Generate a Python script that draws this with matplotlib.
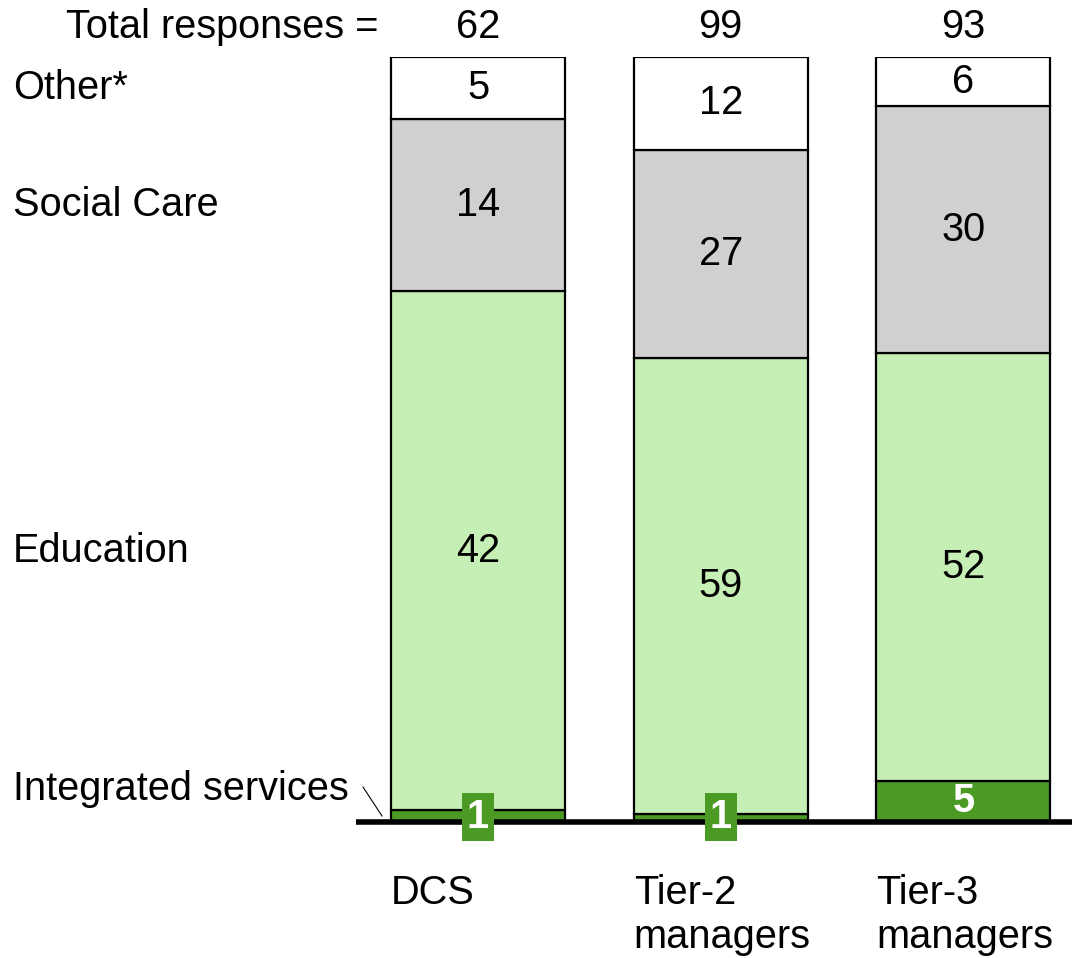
import matplotlib
matplotlib.use("Agg")
import matplotlib.pyplot as plt
import numpy as np

groups = ["DCS", "Tier-2\nmanagers", "Tier-3\nmanagers"]
totals = [62, 99, 93]
categories = ["Integrated services", "Education", "Social Care", "Other*"]
integrated = [1, 1, 5]
education = [42, 59, 52]
social_care = [14, 27, 30]
other = [5, 12, 6]

colors = ["#4a9a24", "#c5efb5", "#d0d0d0", "#ffffff"]

plt.rcParams['font.family'] = ['Liberation Sans', 'DejaVu Sans']
FS = 28.6

W, H = 1072, 958
fig = plt.figure(figsize=(W / 100, H / 100), dpi=100)
base_px, top_px = 822, 57
ax = fig.add_axes([0, (H - base_px) / H, 1, (base_px - top_px) / H])

spacing = 242.7
x0_px = 478
ax.set_xlim(-x0_px / spacing, (W - x0_px) / spacing)
ax.set_ylim(0, 1)
ax.axis('off')

x = np.arange(len(groups))
width = 174 / spacing
series = [integrated, education, social_care, other]
tot = np.array(totals, dtype=float)
bottom = np.zeros(len(groups))
mids = []
for vals, col in zip(series, colors):
    frac = np.array(vals) / tot
    ax.bar(x, frac, width, bottom=bottom, color=col, edgecolor='black', linewidth=1.6, zorder=2)
    mids.append(bottom + frac / 2)
    bottom = bottom + frac
mids = np.array(mids)

def py(p):
    return (base_px - p) / (base_px - top_px)

def px(p):
    return (p - x0_px) / spacing

# values in segments
for si in range(1, 4):
    for gi in range(len(groups)):
        ax.text(x[gi], mids[si][gi], str(series[si][gi]), ha='center', va='center',
                fontsize=FS, color='black', zorder=4)

# integrated services labels
for gi in range(len(groups)):
    v = integrated[gi]
    frac = v / totals[gi]
    if frac * 765 > 30:
        ax.text(x[gi], mids[0][gi], str(v), ha='center', va='center', fontsize=FS,
                fontweight='bold', color='white', zorder=4)
    else:
        ax.text(x[gi], py(817), str(v), ha='center', va='center', fontsize=FS,
                fontweight='bold', color='white', zorder=5, clip_on=False,
                bbox=dict(boxstyle='square,pad=0.12', facecolor=colors[0], edgecolor='none'))

# baseline
ax.plot([px(356), px(W)], [0, 0], color='black', linewidth=4, zorder=3,
        solid_capstyle='butt', clip_on=False)

# totals row
ax.text(px(378), py(27), "Total responses =", ha='right', va='center', fontsize=FS, clip_on=False)
for gi in range(len(groups)):
    ax.text(x[gi], py(27), str(totals[gi]), ha='center', va='center', fontsize=FS, clip_on=False)

# category labels on left
ax.text(px(13), mids[3][0], categories[3], ha='left', va='center', fontsize=FS)
ax.text(px(13), mids[2][0], categories[2], ha='left', va='center', fontsize=FS)
ax.text(px(13), mids[1][0], categories[1], ha='left', va='center', fontsize=FS)
ax.text(px(13), py(789), categories[0], ha='left', va='center', fontsize=FS)
ax.plot([px(363), px(382)], [py(787), py(816)], color='black', linewidth=0.8)

# group labels
for gi in range(len(groups)):
    ax.text(x[gi] - width / 2, py(874), groups[gi], ha='left', va='top', fontsize=FS,
            linespacing=1.2, clip_on=False)

fig.savefig("out.png", dpi=100)
